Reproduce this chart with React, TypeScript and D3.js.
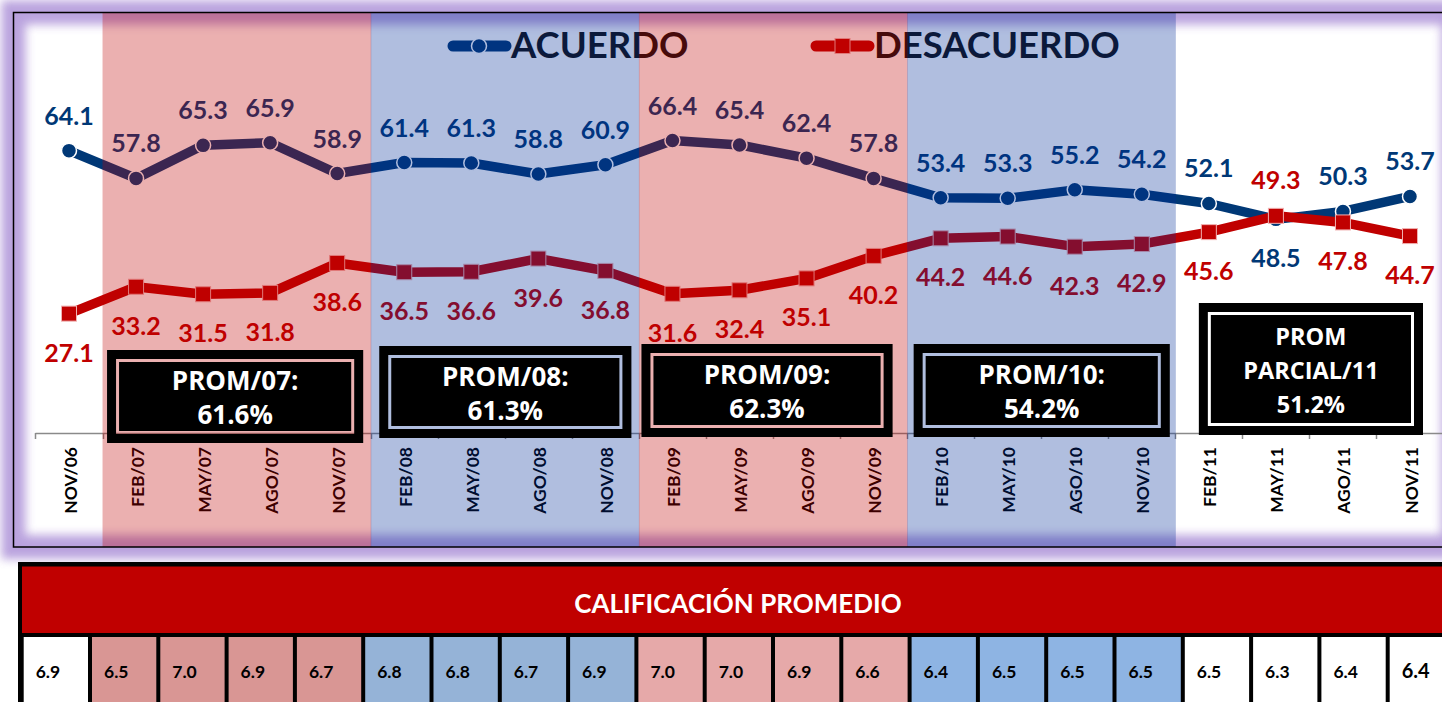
import React, { useEffect, useRef } from "react";
import * as d3 from "d3";

const categories = [
  "NOV/06", "FEB/07", "MAY/07", "AGO/07", "NOV/07", "FEB/08", "MAY/08", "AGO/08", "NOV/08",
  "FEB/09", "MAY/09", "AGO/09", "NOV/09", "FEB/10", "MAY/10", "AGO/10", "NOV/10",
  "FEB/11", "MAY/11", "AGO/11", "NOV/11",
];
const acuerdo = [
  64.1, 57.8, 65.3, 65.9, 58.9, 61.4, 61.3, 58.8, 60.9, 66.4, 65.4, 62.4, 57.8,
  53.4, 53.3, 55.2, 54.2, 52.1, 48.5, 50.3, 53.7,
];
const desacuerdo = [
  27.1, 33.2, 31.5, 31.8, 38.6, 36.5, 36.6, 39.6, 36.8, 31.6, 32.4, 35.1, 40.2,
  44.2, 44.6, 42.3, 42.9, 45.6, 49.3, 47.8, 44.7,
];
const calificacion = [
  6.9, 6.5, 7.0, 6.9, 6.7, 6.8, 6.8, 6.7, 6.9, 7.0, 7.0, 6.9, 6.6,
  6.4, 6.5, 6.5, 6.5, 6.5, 6.3, 6.4, 6.4,
];
// year periods: first and last category of each year
const periodYears = ["07", "08", "09", "10", "11"];
const periodStart = ["FEB/07", "FEB/08", "FEB/09", "FEB/10", "FEB/11"];
const periodEnd = ["NOV/07", "NOV/08", "NOV/09", "NOV/10", "NOV/11"];
const promLabels = [
  ["PROM/07:", "61.6%"],
  ["PROM/08:", "61.3%"],
  ["PROM/09:", "62.3%"],
  ["PROM/10:", "54.2%"],
  ["PROM", "PARCIAL/11", "51.2%"],
];
const seriesNames = ["ACUERDO", "DESACUERDO"];
const tableTitle = "CALIFICACIÓN PROMEDIO";

const BLUE = "#003876";
const RED = "#c00000";

export default function App() {
  const ref = useRef<SVGSVGElement>(null);

  useEffect(() => {
    const width = 1442,
      height = 702;
    const svg = d3.select(ref.current);
    svg.selectAll("*").remove();

    const x = d3.scalePoint<string>().domain(categories).range([69, 1410]);
    const step = x.step();
    const y = d3.scaleLinear().domain([0, 100]).range([433, -7.5]);

    const defs = svg.append("defs");
    defs
      .append("filter")
      .attr("id", "glow")
      .attr("filterUnits", "userSpaceOnUse")
      .attr("x", -40)
      .attr("y", -40)
      .attr("width", 1540)
      .attr("height", 660)
      .append("feGaussianBlur")
      .attr("stdDeviation", 5);

    svg.append("rect").attr("width", width).attr("height", height).attr("fill", "#fff");

    // purple glow of the frame
    svg
      .append("rect")
      .attr("x", 13.5)
      .attr("y", 12.5)
      .attr("width", 1440)
      .attr("height", 534.5)
      .attr("fill", "none")
      .attr("stroke", "#a98cd6")
      .attr("stroke-width", 24)
      .attr("opacity", 0.8)
      .attr("filter", "url(#glow)");

    // x axis
    svg
      .append("line")
      .attr("x1", 35.5)
      .attr("x2", width)
      .attr("y1", 433.5)
      .attr("y2", 433.5)
      .attr("stroke", "#8a8a8a")
      .attr("stroke-width", 1.5);
    d3.range(categories.length + 1).forEach((i) => {
      const tx = Math.round(x(categories[0])! - step / 2 + i * step) + 0.5;
      svg
        .append("line")
        .attr("x1", tx)
        .attr("x2", tx)
        .attr("y1", 433)
        .attr("y2", 439)
        .attr("stroke", "#8a8a8a")
        .attr("stroke-width", 1.5);
    });

    svg
      .append("g")
      .selectAll("text")
      .data(categories)
      .enter()
      .append("text")
      .attr("transform", (d) => `translate(${x(d)! + 1},447) rotate(-90)`)
      .attr("text-anchor", "end")
      .attr("dominant-baseline", "central")
      .style("font-family", "Lato, sans-serif")
      .style("font-weight", 700)
      .style("font-size", "17.5px")
      .attr("fill", "#000")
      .text((d) => d);

    // legend
    const legend = [
      { name: seriesNames[0], x0: 448, color: BLUE, shape: "circle" },
      { name: seriesNames[1], x0: 811, color: RED, shape: "square" },
    ];
    legend.forEach((l) => {
      svg
        .append("line")
        .attr("x1", l.x0 + 5)
        .attr("x2", l.x0 + 58)
        .attr("y1", 46)
        .attr("y2", 46)
        .attr("stroke", l.color)
        .attr("stroke-width", 11)
        .attr("stroke-linecap", "round");
      if (l.shape === "circle") {
        svg
          .append("circle")
          .attr("cx", l.x0 + 31)
          .attr("cy", 46)
          .attr("r", 7.5)
          .attr("fill", l.color)
          .attr("stroke", "#fff")
          .attr("stroke-width", 1.5);
      } else {
        svg
          .append("rect")
          .attr("x", l.x0 + 24)
          .attr("y", 38.5)
          .attr("width", 15)
          .attr("height", 15)
          .attr("fill", l.color)
          .attr("stroke", "#f0b0b0")
          .attr("stroke-width", 1);
      }
      svg
        .append("text")
        .attr("x", l.x0 + 63)
        .attr("y", 58)
        .style("font-family", "Lato, sans-serif")
        .style("font-weight", 700)
        .style("font-size", "36.5px")
        .attr("fill", "#111")
        .text(l.name);
    });

    const line = d3
      .line<number>()
      .x((d, i) => x(categories[i])!)
      .y((d) => y(d));

    // ACUERDO
    svg
      .append("path")
      .datum(acuerdo)
      .attr("d", line)
      .attr("fill", "none")
      .attr("stroke", BLUE)
      .attr("stroke-width", 9.5)
      .attr("stroke-linejoin", "round");
    svg
      .append("g")
      .selectAll("circle")
      .data(acuerdo)
      .enter()
      .append("circle")
      .attr("cx", (d, i) => x(categories[i])!)
      .attr("cy", (d) => y(d))
      .attr("r", 7.5)
      .attr("fill", BLUE)
      .attr("stroke", "#fff")
      .attr("stroke-width", 1.5);

    // DESACUERDO
    svg
      .append("path")
      .datum(desacuerdo)
      .attr("d", line)
      .attr("fill", "none")
      .attr("stroke", RED)
      .attr("stroke-width", 9.5)
      .attr("stroke-linejoin", "round");
    svg
      .append("g")
      .selectAll("rect")
      .data(desacuerdo)
      .enter()
      .append("rect")
      .attr("x", (d, i) => x(categories[i])! - 7.5)
      .attr("y", (d) => y(d) - 7.5)
      .attr("width", 15)
      .attr("height", 15)
      .attr("fill", RED)
      .attr("stroke", "#f0b0b0")
      .attr("stroke-width", 1);

    // data labels
    const labelStyle = (sel: any) =>
      sel
        .attr("text-anchor", "middle")
        .style("font-family", "Lato, sans-serif")
        .style("font-weight", 700)
        .style("font-size", "25px");
    svg
      .append("g")
      .selectAll("text")
      .data(acuerdo)
      .enter()
      .append("text")
      .call(labelStyle)
      .attr("x", (d, i) => x(categories[i])!)
      .attr("y", (d, i) => (d >= desacuerdo[i] ? y(d) - 26 : y(d) + 48))
      .attr("fill", BLUE)
      .text((d) => d.toFixed(1));
    svg
      .append("g")
      .selectAll("text")
      .data(desacuerdo)
      .enter()
      .append("text")
      .call(labelStyle)
      .attr("x", (d, i) => x(categories[i])!)
      .attr("y", (d, i) => (d > acuerdo[i] ? y(d) - 27 : y(d) + 48))
      .attr("fill", RED)
      .text((d) => d.toFixed(1));

    // translucent year bands (on top of the lines)
    const bandFill = ["rgba(192,0,0,0.31)", "rgba(0,45,152,0.31)"];
    periodYears.slice(0, 4).forEach((p, i) => {
      const x0 = x(periodStart[i])! - step / 2;
      const x1 = x(periodEnd[i])! + step / 2;
      svg
        .append("rect")
        .attr("x", x0)
        .attr("y", 13)
        .attr("width", x1 - x0 + 0.5)
        .attr("height", 534)
        .attr("fill", bandFill[i % 2]);
    });

    // average boxes
    const boxGeom = [
      { l: -29, r: 26, top: 350, bottom: 443, fs: 26 },
      { l: -25, r: 26, top: 346, bottom: 438, fs: 26 },
      { l: -31, r: 19, top: 344, bottom: 437, fs: 26 },
      { l: -27, r: 28, top: 344, bottom: 437, fs: 26 },
      { l: -10, r: 13, top: 303, bottom: 435, fs: 23.5 },
    ];
    promLabels.forEach((lines, i) => {
      const g = boxGeom[i];
      const bx0 = x(periodStart[i])! + g.l;
      const bx1 = x(periodEnd[i])! + g.r;
      const w = bx1 - bx0,
        h = g.bottom - g.top;
      const box = svg.append("g");
      box
        .append("path")
        .attr(
          "d",
          `M${bx0},${g.top}h${w}v${h}h${-w}z M${bx0 + 9},${g.top + 9}v${h - 18}h${w - 18}v${-(h - 18)}z`
        )
        .attr("fill", "#000");
      box
        .append("rect")
        .attr("x", bx0 + 12)
        .attr("y", g.top + 12)
        .attr("width", w - 24)
        .attr("height", h - 24)
        .attr("fill", "#000");
      const cx = (bx0 + bx1) / 2;
      const lh = lines.length === 3 ? 34 : 34.5;
      const firstBase = lines.length === 3 ? g.top + 42 : g.top + 39.5;
      lines.forEach((t, j) => {
        box
          .append("text")
          .attr("x", cx)
          .attr("y", firstBase + j * lh)
          .attr("text-anchor", "middle")
          .style("font-family", "'Open Sans', sans-serif")
          .style("font-weight", 700)
          .style("font-size", `${g.fs}px`)
          .attr("fill", "#fff")
          .text(t);
      });
    });

    // frame border
    svg
      .append("rect")
      .attr("x", 13.5)
      .attr("y", 12.5)
      .attr("width", 1440)
      .attr("height", 534.5)
      .attr("fill", "none")
      .attr("stroke", "#000")
      .attr("stroke-width", 1.5);

    // table: CALIFICACIÓN PROMEDIO
    const cx = d3
      .scaleBand<string>()
      .domain(categories)
      .range([21.7, 21.7 + 68.3 * categories.length]);
    const cellColor = (i: number) => {
      if (i === 0) return "#fff";
      const p = Math.floor((i - 1) / 4);
      return ["#d99694", "#95b3d7", "#e6a9a9", "#8eb4e3", "#ffffff"][p];
    };
    svg.append("rect").attr("x", 18).attr("y", 562).attr("width", width).attr("height", 150).attr("fill", "#000");
    svg.append("rect").attr("x", 22).attr("y", 566.5).attr("width", width).attr("height", 66.5).attr("fill", RED);
    svg
      .append("text")
      .attr("x", 738)
      .attr("y", 612.5)
      .attr("text-anchor", "middle")
      .style("font-family", "Lato, sans-serif")
      .style("font-weight", 700)
      .style("font-size", "26px")
      .attr("fill", "#fff")
      .text(tableTitle);
    svg
      .append("g")
      .selectAll("rect")
      .data(calificacion)
      .enter()
      .append("rect")
      .attr("x", (d, i) => cx(categories[i])! + 2)
      .attr("y", 637)
      .attr("width", cx.bandwidth() - 4)
      .attr("height", 80)
      .attr("fill", (d, i) => cellColor(i));
    svg
      .append("g")
      .selectAll("text")
      .data(calificacion)
      .enter()
      .append("text")
      .attr("x", (d, i) => cx(categories[i])! + 14)
      .attr("y", 678)
      .style("font-family", "Lato, sans-serif")
      .style("font-weight", 700)
      .style("font-size", (d, i) => (i === categories.length - 1 ? "20px" : "17.5px"))
      .attr("fill", "#000")
      .text((d) => d.toFixed(1));
  }, []);

  return (
    <svg
      ref={ref}
      width={1442}
      height={702}
      style={{ position: "absolute", left: 0, top: 0, display: "block" }}
    />
  );
}
